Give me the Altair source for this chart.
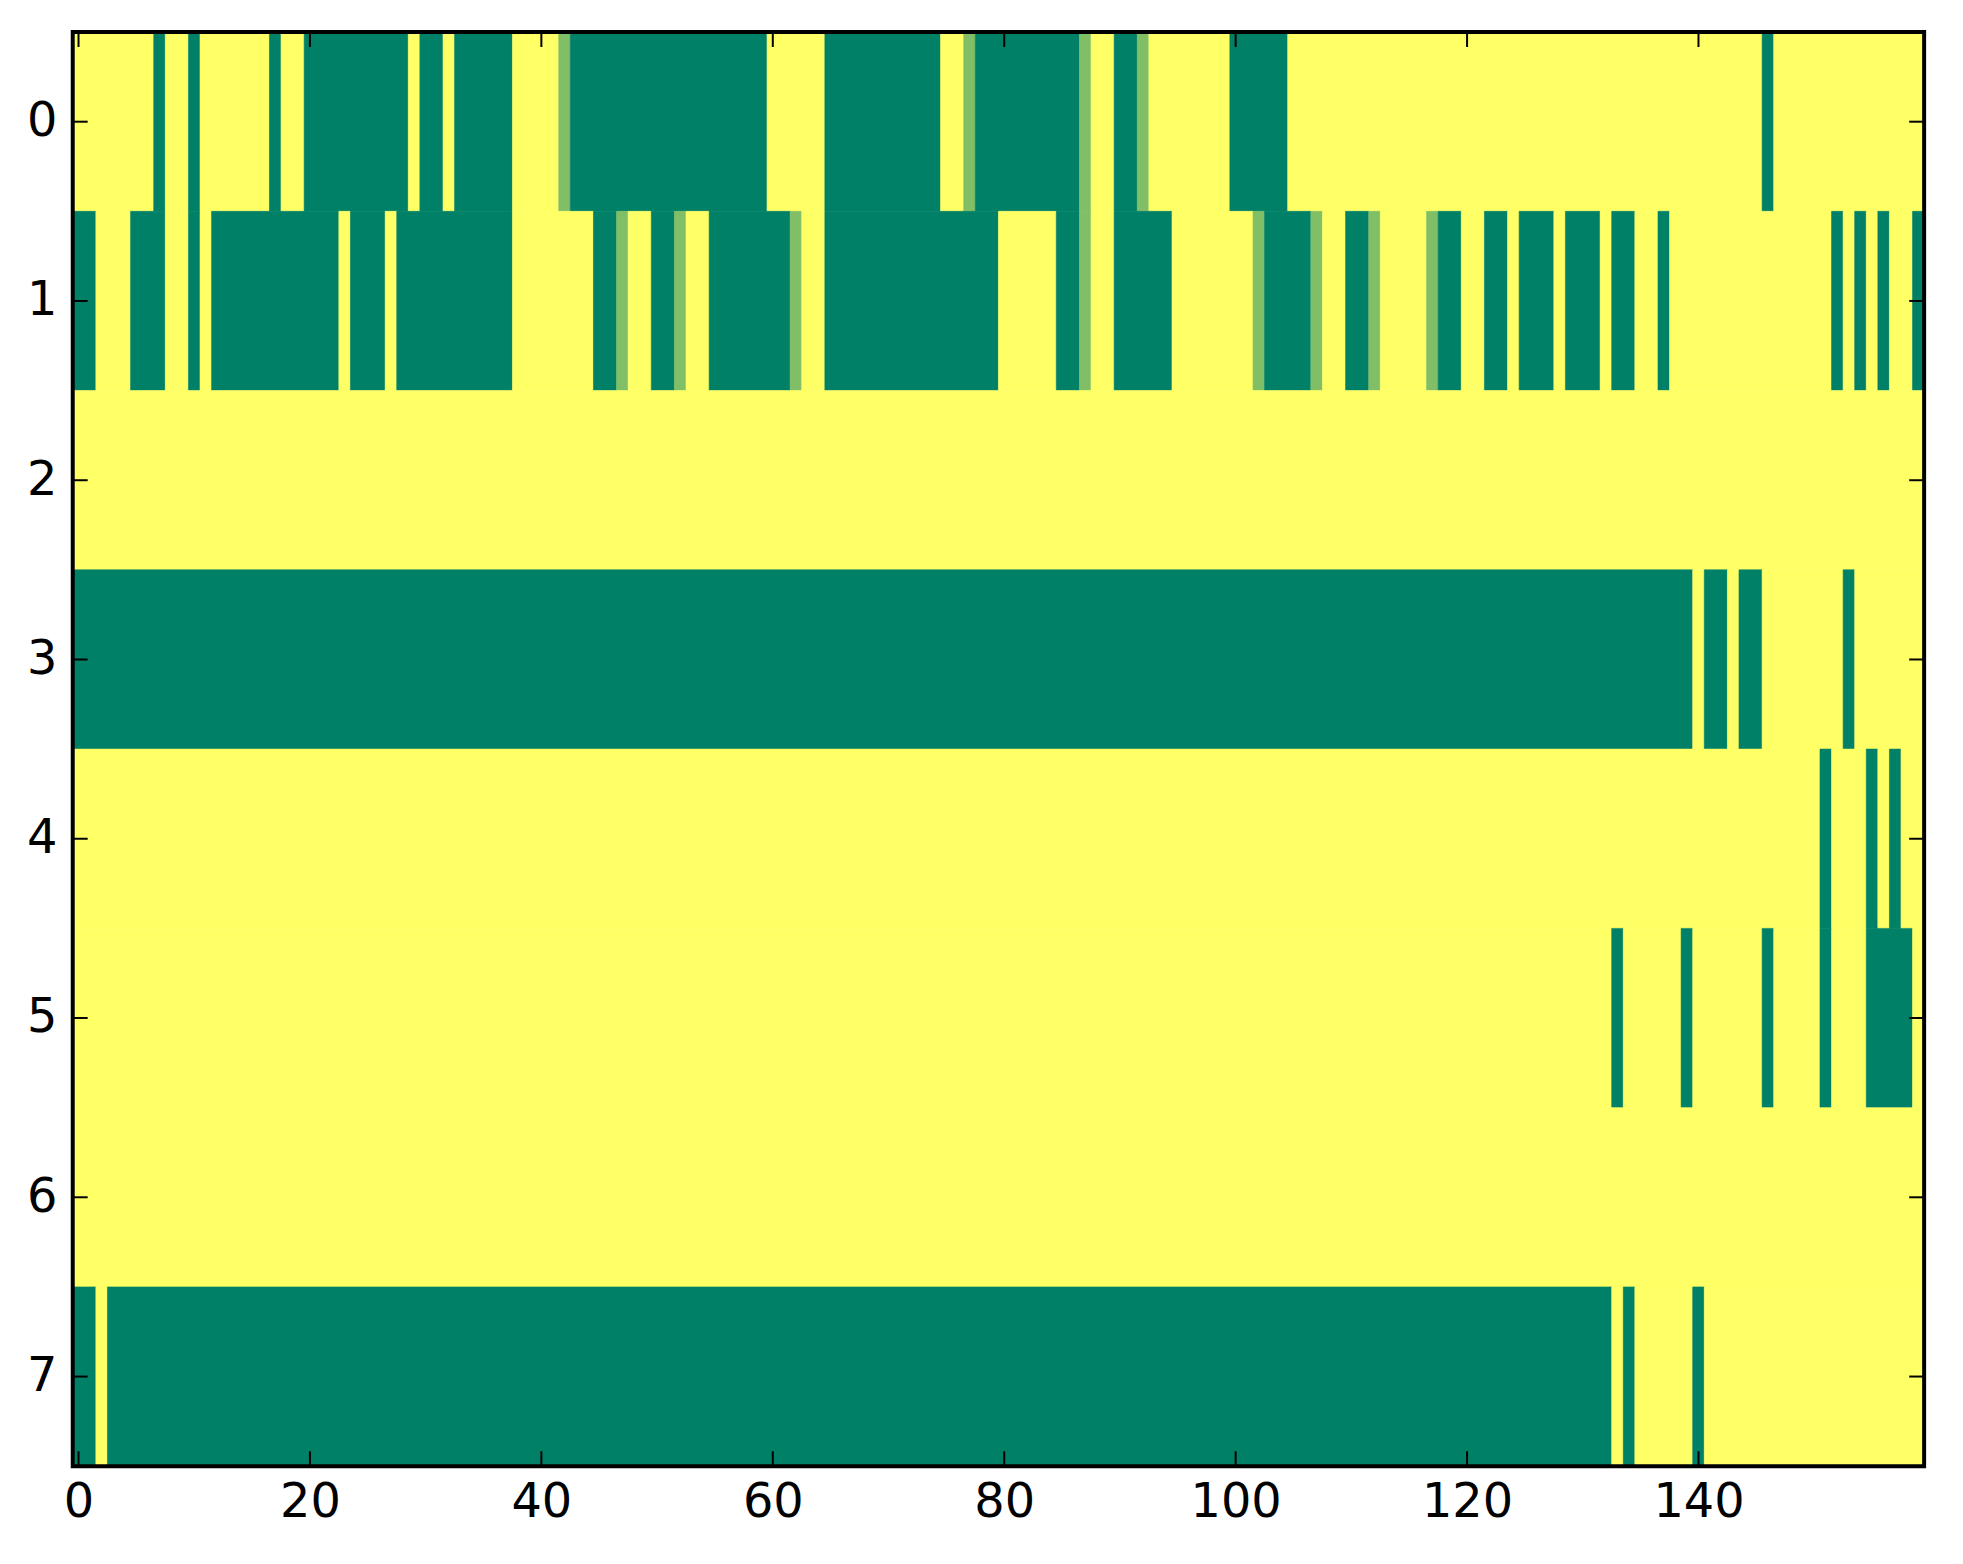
import altair as alt
import pandas as pd

# Each row of the image as runs of (value, length); 1 = yellow, 0 = dark green, 0.5 = light green
row0 = [(1, 7), (0, 1), (1, 2), (0, 1), (1, 6), (0, 1), (1, 2), (0, 9), (1, 1), (0, 2), (1, 1), (0, 5),
        (1, 4), (0.5, 1), (0, 17), (1, 5), (0, 10), (1, 2), (0.5, 1), (0, 9), (0.5, 1), (1, 2), (0, 2),
        (0.5, 1), (1, 7), (0, 5), (1, 41), (0, 1), (1, 13)]
row1 = [(0, 2), (1, 3), (0, 3), (1, 2), (0, 1), (1, 1), (0, 11), (1, 1), (0, 3), (1, 1), (0, 10), (1, 7),
        (0, 2), (0.5, 1), (1, 2), (0, 2), (0.5, 1), (1, 2), (0, 7), (0.5, 1), (1, 2), (0, 15), (1, 5),
        (0, 2), (0.5, 1), (1, 2), (0, 5), (1, 7), (0.5, 1), (0, 4), (0.5, 1), (1, 2), (0, 2), (0.5, 1),
        (1, 4), (0.5, 1), (0, 2), (1, 2), (0, 2), (1, 1), (0, 3), (1, 1), (0, 3), (1, 1), (0, 2), (1, 2),
        (0, 1), (1, 14), (0, 1), (1, 1), (0, 1), (1, 1), (0, 1), (1, 2), (0, 1)]
row2 = [(1, 160)]
row3 = [(0, 140), (1, 1), (0, 2), (1, 1), (0, 2), (1, 7), (0, 1), (1, 6)]
row4 = [(1, 151), (0, 1), (1, 3), (0, 1), (1, 1), (0, 1), (1, 2)]
row5 = [(1, 133), (0, 1), (1, 5), (0, 1), (1, 6), (0, 1), (1, 4), (0, 1), (1, 3), (0, 4), (1, 1)]
row6 = [(1, 160)]
row7 = [(0, 2), (1, 1), (0, 130), (1, 1), (0, 1), (1, 5), (0, 1), (1, 19)]

rows = [row0, row1, row2, row3, row4, row5, row6, row7]
x_ticks = [0, 20, 40, 60, 80, 100, 120, 140]
y_ticks = [0, 1, 2, 3, 4, 5, 6, 7]
n_cols = 160

recs = []
for r, runs in enumerate(rows):
    start = 0
    for v, n in runs:
        recs.append(dict(row=r, x0=start - 0.5, x1=start + n - 0.5, y0=r - 0.5, y1=r + 0.5, v=v))
        start += n
df = pd.DataFrame(recs)

W, H = 1859, 1440
FONT = "DejaVu Sans"
FS = 48

xs = alt.Scale(domain=[-0.5, n_cols - 0.5], nice=False, zero=False)
ys = alt.Scale(domain=[-0.5, len(rows) - 0.5], nice=False, zero=False, reverse=True)
cs = alt.Scale(domain=[0, 0.5, 1], range=["#008066", "#80bf66", "#ffff66"])

x_axis = alt.Axis(values=x_ticks, ticks=False, tickSize=0, domain=False, grid=False,
                  labelFontSize=FS, labelFont=FONT, labelColor="black",
                  labelPadding=13, labelFlush=False, title=None)
y_axis = alt.Axis(values=y_ticks, ticks=False, tickSize=0, domain=False, grid=False,
                  labelFontSize=FS, labelFont=FONT, labelColor="black",
                  labelPadding=16, labelFlush=False, title=None)

heat = alt.Chart(df).mark_rect(strokeWidth=0.6).encode(
    x=alt.X("x0:Q", scale=xs, axis=x_axis),
    x2="x1:Q",
    y=alt.Y("y0:Q", scale=ys, axis=y_axis),
    y2="y1:Q",
    color=alt.Color("v:Q", scale=cs, legend=None),
    stroke=alt.Stroke("v:Q", scale=cs, legend=None),
)

xt = pd.DataFrame({"t": x_ticks})
yt = pd.DataFrame({"t": y_ticks})
TL = 15
tick_style = dict(color="black", strokeWidth=2)

bottom = alt.Chart(xt).mark_rule(**tick_style).encode(
    x=alt.X("t:Q", scale=xs, axis=x_axis), y=alt.value(H), y2=alt.value(H - TL))
top = alt.Chart(xt).mark_rule(**tick_style).encode(
    x=alt.X("t:Q", scale=xs, axis=x_axis), y=alt.value(0), y2=alt.value(TL))
left = alt.Chart(yt).mark_rule(**tick_style).encode(
    y=alt.Y("t:Q", scale=ys, axis=y_axis), x=alt.value(0), x2=alt.value(TL))
right = alt.Chart(yt).mark_rule(**tick_style).encode(
    y=alt.Y("t:Q", scale=ys, axis=y_axis), x=alt.value(W - TL), x2=alt.value(W))

frame = alt.Chart(pd.DataFrame({"a": [0]})).mark_rect(fill=None, stroke="black", strokeWidth=4).encode(
    x=alt.value(0), x2=alt.value(W), y=alt.value(0), y2=alt.value(H))

chart = alt.layer(heat, bottom, top, left, right, frame).properties(
    width=W, height=H,
    autosize=alt.AutoSizeParams(type="none"),
    padding={"left": 65, "top": 21, "right": 31, "bottom": 80},
).configure_view(stroke=None).configure(background="white")

chart.save("out.html", embed_options={"renderer": "svg", "actions": False})
